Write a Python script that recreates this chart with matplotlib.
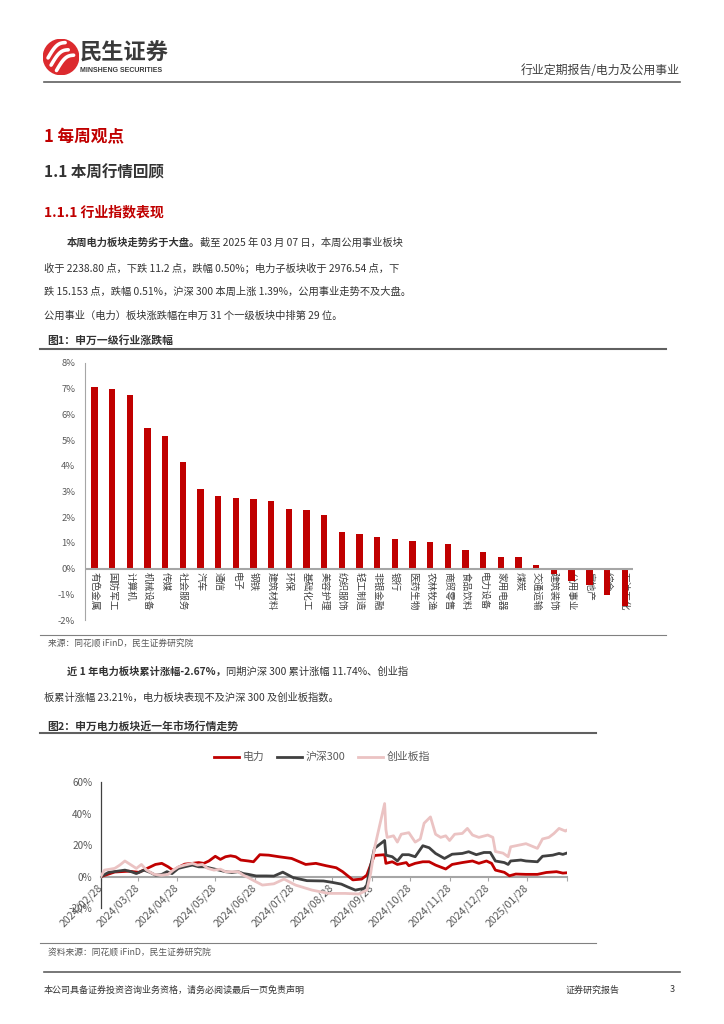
import matplotlib
matplotlib.use('Agg')
import matplotlib.pyplot as plt
import matplotlib.dates as mdates
from matplotlib.patches import Circle
from matplotlib.lines import Line2D
import numpy as np
import pandas as pd

plt.rcParams['font.family'] = ['Noto Sans CJK SC', 'DejaVu Sans']

# ---------------- data ----------------
industries = ['有色金属', '国防军工', '计算机', '机械设备', '传媒', '社会服务', '汽车', '通信',
              '电子', '钢铁', '建筑材料', '环保', '基础化工', '美容护理', '纺织服饰', '轻工制造',
              '非银金融', '银行', '医药生物', '农林牧渔', '商贸零售', '食品饮料', '电力设备',
              '家用电器', '煤炭', '交通运输', '建筑装饰', '公用事业', '房地产', '综合', '石油石化']
weekly_change = [7.08, 6.98, 6.76, 5.46, 5.16, 4.15, 3.09, 2.83, 2.74, 2.71, 2.62, 2.30, 2.27,
                 2.09, 1.43, 1.34, 1.23, 1.14, 1.06, 1.04, 0.96, 0.73, 0.64, 0.45, 0.44, 0.13,
                 -0.22, -0.50, -0.65, -1.02, -1.47]
bar_yticks = [-2, -1, 0, 1, 2, 3, 4, 5, 6, 7, 8]

power_dates = ['2024-02-28', '2024-03-10', '2024-03-21', '2024-03-29', '2024-04-11', '2024-04-16',
               '2024-04-21', '2024-04-25', '2024-04-29', '2024-05-04', '2024-05-10', '2024-05-15',
               '2024-05-19', '2024-05-23', '2024-05-28', '2024-06-01', '2024-06-05', '2024-06-09',
               '2024-06-13', '2024-06-17', '2024-06-23', '2024-06-27', '2024-07-02', '2024-07-09',
               '2024-07-17', '2024-07-27', '2024-08-07', '2024-08-15', '2024-08-23', '2024-08-31',
               '2024-09-05', '2024-09-13', '2024-09-20', '2024-09-24', '2024-09-27', '2024-09-30',
               '2024-10-08', '2024-10-09', '2024-10-14', '2024-10-18', '2024-10-25', '2024-10-27',
               '2024-11-01', '2024-11-07', '2024-11-12', '2024-11-17', '2024-11-25', '2024-11-30',
               '2024-12-08', '2024-12-16', '2024-12-21', '2024-12-27', '2024-12-31', '2025-01-03',
               '2025-01-10', '2025-01-14', '2025-01-19', '2025-01-27', '2025-02-05', '2025-02-12',
               '2025-02-20', '2025-02-25', '2025-02-28']
power_vals = [0.0, 3.0, 3.5, 2.8, 7.8, 8.5, 6.3, 4.0, 6.0, 8.0, 8.5, 9.0, 8.5, 10.0, 13.0, 11.0,
              12.7, 13.3, 12.7, 10.6, 10.0, 9.5, 14.0, 13.7, 12.7, 11.6, 7.8, 8.5, 7.0, 5.7, 3.2,
              -2.0, -1.5, 1.0, 7.5, 13.5, 14.0, 8.5, 9.5, 7.8, 9.0, 7.0, 8.5, 9.5, 9.5, 7.4, 4.9,
              7.8, 9.0, 10.0, 8.5, 10.0, 8.5, 4.2, 2.8, 0.6, 1.7, 1.5, 1.5, 2.7, 3.2, 2.3, 2.5]

hs300_dates = ['2024-02-28', '2024-03-05', '2024-03-13', '2024-03-18', '2024-03-23', '2024-03-27',
               '2024-04-02', '2024-04-07', '2024-04-11', '2024-04-16', '2024-04-20', '2024-04-24',
               '2024-04-29', '2024-05-04', '2024-05-10', '2024-05-15', '2024-05-20', '2024-05-25',
               '2024-05-31', '2024-06-05', '2024-06-10', '2024-06-15', '2024-06-19', '2024-06-23',
               '2024-06-29', '2024-07-07', '2024-07-13', '2024-07-20', '2024-07-28', '2024-08-08',
               '2024-08-21', '2024-08-28', '2024-09-04', '2024-09-09', '2024-09-15', '2024-09-22',
               '2024-09-24', '2024-09-27', '2024-09-30', '2024-10-08', '2024-10-09', '2024-10-14',
               '2024-10-18', '2024-10-22', '2024-10-27', '2024-11-01', '2024-11-07', '2024-11-12',
               '2024-11-17', '2024-11-24', '2024-11-30', '2024-12-08', '2024-12-13', '2024-12-19',
               '2024-12-25', '2024-12-30', '2025-01-03', '2025-01-10', '2025-01-13', '2025-01-15',
               '2025-01-23', '2025-01-27', '2025-02-05', '2025-02-09', '2025-02-17', '2025-02-22',
               '2025-02-25', '2025-02-28']
hs300_vals = [0.0, 2.7, 3.6, 4.2, 3.2, 2.0, 4.2, 2.7, 1.0, 1.5, 3.2, 2.0, 5.3, 6.3, 7.4, 6.3, 6.3,
              5.3, 4.2, 3.2, 2.7, 3.2, 2.0, 1.5, 0.5, 0.5, 0.4, 2.9, -0.5, -2.5, -2.7, -3.6, -4.7,
              -6.5, -8.5, -7.4, -5.3, 7.0, 18.0, 23.0, 13.7, 12.7, 10.0, 14.0, 14.0, 12.7, 19.7,
              18.4, 14.8, 11.6, 14.3, 14.8, 15.9, 14.0, 15.4, 15.4, 10.0, 9.0, 7.8, 10.0, 10.6,
              10.0, 9.5, 13.0, 13.7, 14.8, 14.2, 15.0]

gem_dates = ['2024-02-28', '2024-03-02', '2024-03-10', '2024-03-14', '2024-03-18', '2024-03-23',
             '2024-03-27', '2024-03-31', '2024-04-04', '2024-04-10', '2024-04-16', '2024-04-21',
             '2024-04-25', '2024-04-29', '2024-05-04', '2024-05-10', '2024-05-14', '2024-05-18',
             '2024-05-22', '2024-05-27', '2024-06-01', '2024-06-05', '2024-06-10', '2024-06-15',
             '2024-06-19', '2024-06-23', '2024-06-28', '2024-07-04', '2024-07-13', '2024-07-21',
             '2024-07-30', '2024-08-12', '2024-08-25', '2024-09-07', '2024-09-18', '2024-09-24',
             '2024-09-27', '2024-09-30', '2024-10-08', '2024-10-09', '2024-10-10', '2024-10-15',
             '2024-10-18', '2024-10-21', '2024-10-27', '2024-11-01', '2024-11-05', '2024-11-08',
             '2024-11-13', '2024-11-17', '2024-11-21', '2024-11-25', '2024-11-28', '2024-12-02',
             '2024-12-08', '2024-12-12', '2024-12-16', '2024-12-21', '2024-12-28', '2025-01-01',
             '2025-01-03', '2025-01-09', '2025-01-13', '2025-01-15', '2025-01-21', '2025-01-27',
             '2025-02-05', '2025-02-09', '2025-02-14', '2025-02-18', '2025-02-22', '2025-02-27',
             '2025-02-28']
gem_vals = [0.0, 4.2, 5.3, 7.4, 10.0, 7.4, 5.3, 7.8, 4.2, 1.5, 1.0, 1.5, 4.2, 6.3, 7.4, 8.5, 7.4,
            7.8, 5.3, 4.2, 4.8, 3.2, 3.2, 3.2, 1.0, -0.6, -2.8, -5.3, -4.5, -1.5, -5.3, -8.5,
            -10.6, -10.6, -11.0, -8.5, 2.0, 18.0, 46.5, 30.0, 25.0, 26.0, 22.0, 27.0, 28.0, 22.0,
            24.0, 34.0, 38.0, 27.0, 25.0, 26.0, 23.0, 27.0, 27.5, 30.7, 26.5, 25.0, 26.5, 25.0,
            16.0, 15.0, 12.7, 19.0, 20.0, 21.0, 18.0, 24.0, 25.0, 27.5, 30.7, 29.0, 29.5]

line_yticks = [-20, 0, 20, 40, 60]
date_ticks = ['2024-02-28', '2024-03-28', '2024-04-28', '2024-05-28', '2024-06-28', '2024-07-28',
              '2024-08-28', '2024-09-28', '2024-10-28', '2024-11-28', '2024-12-28', '2025-01-28',
              '2025-02-28']
date_tick_labels = ['2024/02/28', '2024/03/28', '2024/04/28', '2024/05/28', '2024/06/28',
                    '2024/07/28', '2024/08/28', '2024/09/28', '2024/10/28', '2024/11/28',
                    '2024/12/28', '2025/01/28', '']


def dnum(lst):
    return mdates.date2num(pd.to_datetime(lst).to_pydatetime())


# ---------------- page ----------------
W, H = 724, 1024
fig = plt.figure(figsize=(W / 100, H / 100), dpi=100)
renderer = fig.canvas.get_renderer()

RED = '#C00000'
DARK = '#333333'
GRAY = '#595959'


def fx(x):
    return x / W


def fy(y):
    return 1 - y / H


def T(x, y, s, size=7.4, color=DARK, weight='normal', ha='left', va='center', **kw):
    return fig.text(fx(x), fy(y), s, fontsize=size, color=color, fontweight=weight,
                    ha=ha, va=va, **kw)


def HL(y, x0, x1, color='#404040', lw=1.0):
    fig.add_artist(Line2D([fx(x0), fx(x1)], [fy(y), fy(y)], color=color, lw=lw,
                          transform=fig.transFigure))


def rich(x, y, parts, size=7.4):
    cx = x
    for s, w in parts:
        t = T(cx, y, s, size=size, weight=w)
        cx += t.get_window_extent(renderer=renderer).width


# logo
lax = fig.add_axes([fx(43), fy(75), 36 / W, 36 / H])
lax.set_xlim(-1, 1)
lax.set_ylim(-1, 1)
lax.set_aspect('equal')
lax.axis('off')
lax.add_patch(Circle((0, 0), 0.98, color='#DC2A2E'))
tt = np.linspace(0, 1, 30)
for k, (x0, y0) in enumerate([(-0.72, -0.05), (-0.55, -0.45), (-0.25, -0.75)]):
    xs = x0 + 0.95 * tt
    ys = y0 + 0.85 * tt + 0.25 * np.sin(np.pi * tt)
    lax.plot(xs, ys, color='white', lw=2.6, solid_capstyle='round')
T(80, 53, '民生证券', size=16, color='#3A3A3A', weight='bold')
T(80, 70, 'MINSHENG SECURITIES', size=5.0, color='#3A3A3A', weight='bold',
  family=['Liberation Sans', 'DejaVu Sans'])
T(680, 70, '行业定期报告/电力及公用事业', size=8.6, color='#404040', ha='right')
HL(82, 44, 680, color='#606060', lw=1.2)

# headings
T(44, 137, '1 每周观点', size=12, color=RED, weight='bold')
T(44, 172, '1.1 本周行情回顾', size=11.2, color=DARK, weight='bold')
T(44, 212, '1.1.1 行业指数表现', size=10, color=RED, weight='bold')

# paragraph 1
rich(67, 243, [('本周电力板块走势劣于大盘。', 'bold'),
               ('截至 2025 年 03 月 07 日，本周公用事业板块', 'normal')])
T(44, 268, '收于 2238.80 点，下跌 11.2 点，跌幅 0.50%；电力子板块收于 2976.54 点，下')
T(44, 292, '跌 15.153 点，跌幅 0.51%，沪深 300 本周上涨 1.39%，公用事业走势不及大盘。')
T(44, 316, '公用事业（电力）板块涨跌幅在申万 31 个一级板块中排第 29 位。')

# figure 1
T(47, 341, '图1：申万一级行业涨跌幅', size=7.8, color=DARK, weight='bold')
HL(349, 40, 666, color='#606060', lw=1.5)

ax1 = fig.add_axes([fx(85), fy(620), (633 - 85) / W, (620 - 363) / H])
xpos = np.arange(len(industries))
ax1.bar(xpos, weekly_change, width=0.36, color=RED, zorder=2)
ax1.set_xlim(-0.53, len(industries) - 0.53)
ax1.set_ylim(bar_yticks[0], bar_yticks[-1])
ax1.set_yticks(bar_yticks)
ax1.set_yticklabels([f'{v}%' for v in bar_yticks])
ax1.set_xticks([])
ax1.tick_params(axis='y', length=0, pad=7, labelsize=6.8, labelcolor=GRAY)
for s in ['top', 'right', 'bottom']:
    ax1.spines[s].set_visible(False)
ax1.spines['left'].set_color('#A6A6A6')
ax1.spines['left'].set_linewidth(0.8)
ax1.axhline(0, color='#A6A6A6', lw=1.5, zorder=3)
for i, name in enumerate(industries):
    ax1.text(i, -0.13, name, rotation=-90, ha='center', va='top', fontsize=6.9,
             color='#404040', zorder=1, clip_on=False)

HL(635, 40, 666, color='#808080', lw=0.8)
T(48, 644, '来源：同花顺 iFinD，民生证券研究院', size=6.3, color=GRAY)

# paragraph 2
rich(67, 672, [('近 1 年电力板块累计涨幅-2.67%，', 'bold'),
               ('同期沪深 300 累计涨幅 11.74%、创业指', 'normal')])
T(44, 697, '板累计涨幅 23.21%，电力板块表现不及沪深 300 及创业板指数。')

# figure 2
T(47, 726, '图2：申万电力板块近一年市场行情走势', size=7.8, color=DARK, weight='bold')
HL(733, 40, 596, color='#606060', lw=1.5)

ax2 = fig.add_axes([fx(100.7), fy(908.2), (566.7 - 100.7) / W, (908.2 - 782.3) / H])
for s in ['top', 'right']:
    ax2.spines[s].set_visible(False)
ax2.spines['left'].set_color('#404040')
ax2.spines['left'].set_linewidth(0.9)
ax2.spines['bottom'].set_position(('data', 0))
ax2.spines['bottom'].set_color('#A6A6A6')
ax2.spines['bottom'].set_linewidth(1.5)
ax2.spines['bottom'].set_zorder(2)

l1, = ax2.plot(dnum(power_dates), power_vals, color=RED, lw=2.0, zorder=3)
l2, = ax2.plot(dnum(hs300_dates), hs300_vals, color='#404040', lw=2.0, zorder=4)
l3, = ax2.plot(dnum(gem_dates), gem_vals, color='#EBC3C3', lw=2.0, zorder=5)
ax2.set_ylim(line_yticks[0], line_yticks[-1])
tick_nums = dnum(date_ticks)
ax2.set_xlim(tick_nums[0], tick_nums[-1])
ax2.set_yticks(line_yticks)
ax2.set_yticklabels([f'{v}%' for v in line_yticks])
ax2.tick_params(axis='y', length=0, pad=6, labelsize=7.2, labelcolor=GRAY)
ax2.set_xticks(tick_nums)
ax2.set_xticklabels(date_tick_labels)
ax2.tick_params(axis='x', length=3, color='#A6A6A6', pad=4, labelsize=7.6, labelcolor=GRAY,
                labelrotation=45)
for lab in ax2.get_xticklabels():
    lab.set_ha('right')
    lab.set_va('center')
    lab.set_rotation_mode('anchor')

fig.legend([l1, l2, l3], ['电力', '沪深300', '创业板指'], loc='center',
           bbox_to_anchor=(fx(322), fy(757)), ncol=3, frameon=False, fontsize=7.8,
           handlelength=2.3, columnspacing=1.2, handletextpad=0.3, labelcolor=GRAY)

HL(943, 40, 596, color='#808080', lw=0.8)
T(48, 953, '资料来源：同花顺 iFinD，民生证券研究院', size=6.3, color=GRAY)

# footer
HL(972, 44, 680, color='#606060', lw=1.2)
T(44, 990, '本公司具备证券投资咨询业务资格，请务必阅读最后一页免责声明', size=6.5, color=DARK)
T(620, 990, '证券研究报告', size=6.5, color=DARK, ha='right')
T(672, 990, '3', size=6.5, color=DARK, ha='center')

fig.savefig('out.png', dpi=100)
